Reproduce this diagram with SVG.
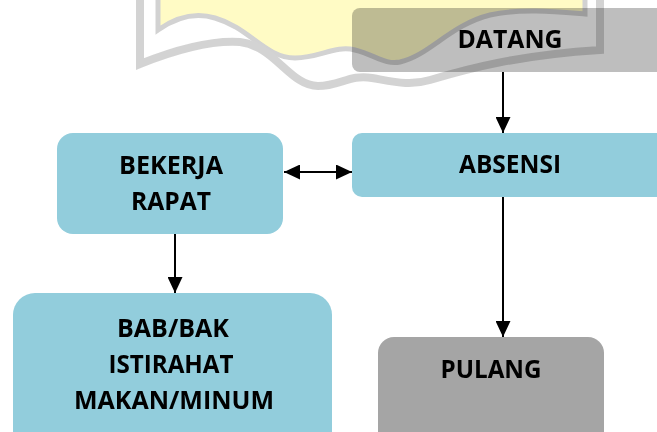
<svg xmlns="http://www.w3.org/2000/svg" width="657" height="432" viewBox="0 0 657 432">
<defs>
<style>
.lbl{font-family:"Open Sans","Liberation Sans",sans-serif;font-weight:700;font-size:25.5px;fill:#000;text-anchor:middle}
.blue{fill:#92cddc}
.conn{stroke:#000;stroke-width:2;fill:none}
</style>
<marker id="ah" markerUnits="userSpaceOnUse" markerWidth="16" markerHeight="15" refX="16" refY="7.5" orient="auto-start-reverse" viewBox="0 0 16 15">
<path d="M0,0 L16,7.5 L0,15 Z" fill="#000"/>
</marker>
</defs>
<rect width="657" height="432" fill="#fff"/>
<g id="datang">
<rect x="352" y="8" width="320" height="64" rx="8" fill="#bebebe"/>
<text class="lbl" x="510" y="48" fill="#222" textLength="105" lengthAdjust="spacingAndGlyphs">DATANG</text>
</g>
<g id="absensi">
<rect class="blue" x="352" y="133" width="320" height="64" rx="10"/>
<text class="lbl" x="510" y="173" textLength="102" lengthAdjust="spacingAndGlyphs">ABSENSI</text>
</g>
<g id="bekerja">
<rect class="blue" x="57" y="133" width="226" height="101" rx="16"/>
<text class="lbl" x="171" y="174" textLength="104" lengthAdjust="spacingAndGlyphs">BEKERJA</text>
<text class="lbl" x="171" y="210" textLength="80" lengthAdjust="spacingAndGlyphs">RAPAT</text>
</g>
<g id="istirahat">
<rect class="blue" x="13" y="293" width="319" height="160" rx="22"/>
<text class="lbl" x="173" y="337" textLength="112" lengthAdjust="spacingAndGlyphs">BAB/BAK</text>
<text class="lbl" x="171" y="373" textLength="125" lengthAdjust="spacingAndGlyphs">ISTIRAHAT</text>
<text class="lbl" x="174" y="409" textLength="200" lengthAdjust="spacingAndGlyphs">MAKAN/MINUM</text>
</g>
<g id="pulang">
<rect x="378" y="337" width="226" height="120" rx="16" fill="#a5a5a5"/>
<text class="lbl" x="491" y="378" textLength="101" lengthAdjust="spacingAndGlyphs">PULANG</text>
</g>
<g id="connectors">
<path class="conn" d="M503,72 V133" marker-end="url(#ah)"/>
<path class="conn" d="M284,172 H352" marker-start="url(#ah)" marker-end="url(#ah)"/>
<path class="conn" d="M175,234 V293" marker-end="url(#ah)"/>
<path class="conn" d="M503,197 V337" marker-end="url(#ah)"/>
</g>
<g id="watermark" style="mix-blend-mode:multiply" opacity="0.9">
<path d="M158,0 V30 C175,18 195,12 215,18 C250,28 265,58 295,58 C320,58 335,45 355,50 C375,55 385,65 400,62 C430,55 450,25 490,15 C520,8 560,12 585,14 V0 Z" fill="#fffbbf"/>
<path d="M158,0 V30 C175,18 195,12 215,18 C250,28 265,58 295,58 C320,58 335,45 355,50 C375,55 385,65 400,62 C430,55 450,25 490,15 C520,8 560,12 585,14 V0" fill="none" stroke="#cdcdcd" stroke-width="5"/>
<path d="M140,0 V64 C175,50 210,40 240,42 C275,46 290,86 318,86 C340,86 350,74 372,78 C395,82 410,86 430,80 C470,68 520,55 600,50 V0" fill="none" stroke="#cfcfcf" stroke-width="8"/>
</g>
</svg>
